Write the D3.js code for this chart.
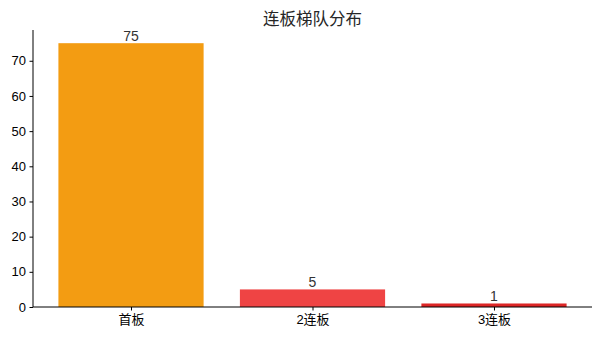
<!DOCTYPE html>
<html>
<head>
<meta charset="utf-8">
<script src="https://cdn.jsdelivr.net/npm/d3@7"></script>
<style>
  body { margin: 0; background: #fff; }
  svg { font-family: "Liberation Sans", Arial, "Noto Sans CJK SC", sans-serif; }
</style>
</head>
<body>
<svg id="chart" width="600" height="339"></svg>
<script>
var categories = ["首板", "2连板", "3连板"];
var counts = [75, 5, 1];
var barColors = ["#f39c12", "#ef4444", "#dc2626"];
var yTicks = [0, 10, 20, 30, 40, 50, 60, 70];

var svg = d3.select("#chart");

var margin = {top: 30, left: 33, bottom: 32, right: 8},
    width = 600,
    height = 339;

// matplotlib-like limits: bars of width .8, 5% margins
var x = d3.scaleLinear()
    .domain([-0.54, 2.54])
    .range([margin.left, width - margin.right]);

var y = d3.scaleLinear()
    .domain([0, 75 * 1.05])
    .range([height - margin.bottom, margin.top]);

svg.append("text")
    .attr("x", (x.range()[0] + x.range()[1]) / 2)
    .attr("y", 25)
    .attr("text-anchor", "middle")
    .attr("font-size", 16.5)
    .attr("fill", "#262626")
    .text("连板梯队分布");

svg.append("g")
    .selectAll("rect")
    .data(counts)
    .enter().append("rect")
    .attr("x", function(d, i){ return x(i - 0.4) })
    .attr("width", function(d, i){ return x(i + 0.4) - x(i - 0.4) })
    .attr("y", function(d){ return y(d) })
    .attr("height", function(d){ return y(0) - y(d) })
    .attr("fill", function(d, i){ return barColors[i] });

svg.append("g")
    .selectAll("text")
    .data(counts)
    .enter().append("text")
    .attr("x", function(d, i){ return x(i) })
    .attr("y", function(d){ return y(d) - 2.5 })
    .attr("text-anchor", "middle")
    .attr("font-size", 14)
    .attr("fill", "#333")
    .text(function(d){ return d });

var yAxis = svg.append("g")
    .attr("transform", `translate(${margin.left},0)`)
    .call(d3.axisLeft(y).tickValues(yTicks).tickSize(3.5).tickPadding(3.5));

var xAxis = svg.append("g")
    .attr("transform", `translate(0,${y(0)})`)
    .call(d3.axisBottom(x).tickValues([0, 1, 2]).tickSize(3.5).tickPadding(4)
        .tickFormat(function(i){ return categories[i] }));

[yAxis, xAxis].forEach(function(a){
    a.selectAll("text").attr("font-size", 13).attr("fill", "#000")
        .attr("font-family", "\"Liberation Sans\", Arial, \"Noto Sans CJK SC\", sans-serif");
    a.selectAll("line").attr("stroke", "#000");
    a.select(".domain").attr("stroke", "#000").attr("stroke-width", 1);
});
yAxis.select(".domain").attr("d", `M0,${y.range()[1]}V${y(0)}`);
xAxis.select(".domain").attr("d", `M${x.range()[0]},0H${x.range()[1]}`);
</script>
</body>
</html>
